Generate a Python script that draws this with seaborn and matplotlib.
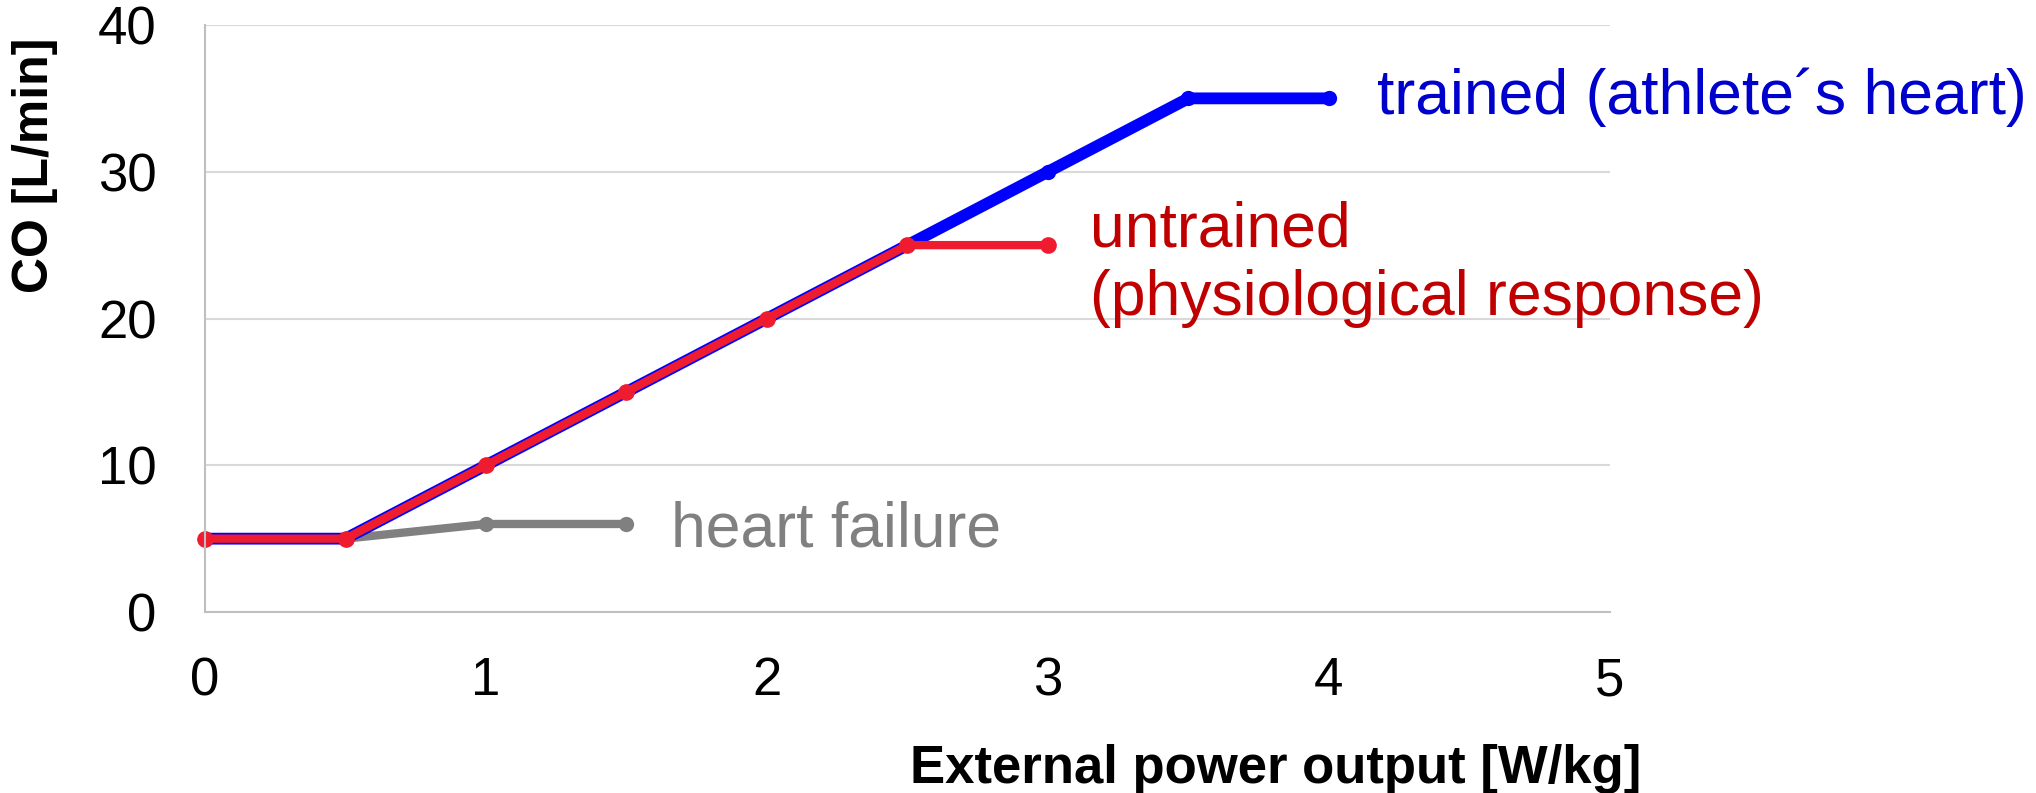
import pandas as pd
import matplotlib
matplotlib.use("Agg")
import matplotlib.pyplot as plt
import seaborn as sns

# data
power = [0, 0.5, 1, 1.5, 2, 2.5, 3, 3.5, 4]
co_trained = [5, 5, 10, 15, 20, 25, 30, 35, 35]
co_untrained = [5, 5, 10, 15, 20, 25, 25]
co_failure = [5, 5, 6, 6]

label_trained = "trained (athlete\u00b4s heart)"
label_untrained = "untrained\n(physiological response)"
label_failure = "heart failure"

x_ticks = [0, 1, 2, 3, 4, 5]
y_ticks = [0, 10, 20, 30, 40]

sns.set_theme(style="white")
plt.rcParams['font.family'] = ['Liberation Sans', 'DejaVu Sans']

df_tr = pd.DataFrame({"x": power, "y": co_trained})
df_un = pd.DataFrame({"x": power[:len(co_untrained)], "y": co_untrained})
df_hf = pd.DataFrame({"x": power[:len(co_failure)], "y": co_failure})

fig = plt.figure(figsize=(20.36, 7.93), dpi=100)
ax = fig.add_axes([0.1007, 0.2282, 0.69, 0.7403])

sns.lineplot(data=df_hf, x="x", y="y", ax=ax, color="#808080", lw=6,
             marker="o", markersize=11, markeredgewidth=0, clip_on=False)
sns.lineplot(data=df_tr, x="x", y="y", ax=ax, color="#0000FF", lw=8.5,
             marker="o", markersize=11, markeredgewidth=0, clip_on=False)
sns.lineplot(data=df_un, x="x", y="y", ax=ax, color="#EE1C2E", lw=6,
             marker="o", markersize=12, markeredgewidth=0, clip_on=False)

ax.set_xlim(0, 5)
ax.set_ylim(0, 40)
ax.set_xticks(x_ticks)
ax.set_yticks(y_ticks)
ax.yaxis.grid(True, color="#D9D9D9", lw=1.5)
ax.xaxis.grid(False)
for s in ["top", "right"]:
    ax.spines[s].set_visible(False)
for s in ["left", "bottom"]:
    ax.spines[s].set_color("#BFBFBF")
    ax.spines[s].set_linewidth(1.5)
ax.tick_params(axis="x", labelsize=38, pad=32, length=0, colors="black")
ax.tick_params(axis="y", labelsize=38, pad=35, length=0, colors="black")

ax.set_xlabel("External power output [W/kg]", fontsize=38, fontweight="bold",
              color="black")
ax.set_ylabel("CO [L/min]", fontsize=36, fontweight="bold", color="black")
ax.xaxis.set_label_coords(0.762, -0.225)
ax.yaxis.set_label_coords(-0.105, 0.761)

ax.text(4.17, 35.1, label_trained, color="#0000CC", fontsize=45, va="center")
ax.text(3.15, 23.7, label_untrained, color="#C00000", fontsize=45, va="center",
        linespacing=1.2)
ax.text(1.66, 5.6, label_failure, color="#808080", fontsize=45, va="center")

fig.savefig("out.png", dpi=100)
